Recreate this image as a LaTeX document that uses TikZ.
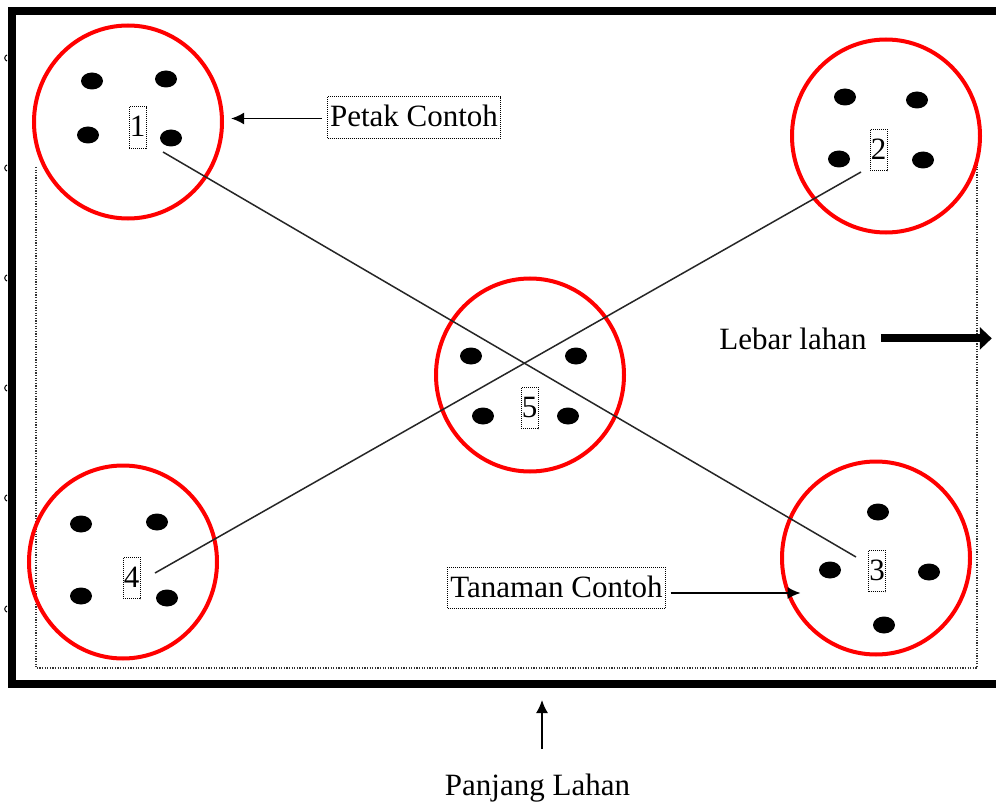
\documentclass[tikz,border=0pt]{standalone}
\usepackage{fontspec}
\setmainfont{Liberation Serif}
\usetikzlibrary{arrows.meta,shapes.geometric}
\begin{document}
\begin{tikzpicture}[x=1pt,y=-1pt,
  plot/.style={ellipse,draw=red,line width=4pt,minimum width=188pt,minimum height=193pt,inner sep=0pt},
  dot/.style={ellipse,fill=black,minimum width=22pt,minimum height=17pt,inner sep=0pt},
  dotbox/.style={draw,line width=0.9pt,dash pattern=on 1pt off 1pt,inner ysep=0pt,text height=30pt,text depth=11.5pt,font=\fontsize{31}{36}\selectfont},
  num/.style={dotbox,inner xsep=0pt,minimum width=17pt},
  lbl/.style={dotbox,inner xsep=2.5pt},
  txt/.style={font=\fontsize{31}{36}\selectfont,inner sep=0pt},
  diag/.style={line width=1.5pt,black!85},
  ptr/.style={line width=1.6pt,-{Latex[length=13pt,width=12pt]}},
  bigptr/.style={line width=8pt,-{Triangle[length=12pt,width=22pt]}},
  frame/.style={line width=8pt},
  border/.style={line width=1.2pt,black!80,dash pattern=on 1.2pt off 1.4pt},
  tick/.style={line width=1pt}
]
\useasboundingbox (0,0) rectangle (996,805);
\fill[white] (0,0) rectangle (996,805);

% outer frame
\draw[frame] (1000,11) -- (12,11) -- (12,684) -- (1000,684);
% small marks on the left
\foreach \ty in {58,168,278,388,498,609}
  \draw[tick] (7,\ty-3) .. controls (4,\ty-2) and (4,\ty+2) .. (7,\ty+3);

% inner dotted border (open at top)
\draw[border] (36,167) -- (36,668) -- (977,668) -- (977,165);

% sample plots
\node[plot] (c1) at (128,122) {};
\node[plot] (c2) at (886,136) {};
\node[plot] (c3) at (876,558) {};
\node[plot] (c4) at (123,562) {};
\node[plot] (c5) at (530,375) {};

% sample plants
\foreach \px/\py in {92/81,166/79,88/135,171/138,
                     845/97,917/100,839/159,923/160,
                     878/512,830/570,929/572,884/625,
                     81/524,157/522,81/596,167/598,
                     471/356,576/356,483/416,568/416}
  \node[dot] at (\px,\py) {};

% numbers
\node[num] (n1) at (137.5,127.5) {1};
\node[num] (n2) at (878.5,150) {2};
\node[num] (n3) at (877,571) {3};
\node[num] (n4) at (131.5,578) {4};
\node[num] (n5) at (529.5,408) {5};

% diagonals
\coordinate (e1) at (163,152);
\coordinate (e3) at (856,557);
\coordinate (e4) at (155,573);
\coordinate (e2) at (861,172);
\draw[diag] (e1) -- (e3);
\draw[diag] (e4) -- (e2);

% labels
\node[lbl] (pc) at (414,117.5) {Petak Contoh};
\node[lbl] (tc) at (556.5,588) {Tanaman Contoh};
\draw[ptr] ([xshift=-5pt,yshift=-1pt]pc.west) -- ++(-91,0);
\draw[ptr] ([xshift=5pt,yshift=-5pt]tc.east) -- ++(130,0);

\node[txt,anchor=base] (lb) at (793,349) {Lebar lahan};
\draw[bigptr] ([xshift=14pt]lb.east) -- ++(111,0);

\node[txt,anchor=base] (pl) at (537.5,795) {Panjang Lahan};
\coordinate (pa) at (542,749);
\draw[ptr] (pa) -- ++(0,-49);
\end{tikzpicture}
\end{document}
